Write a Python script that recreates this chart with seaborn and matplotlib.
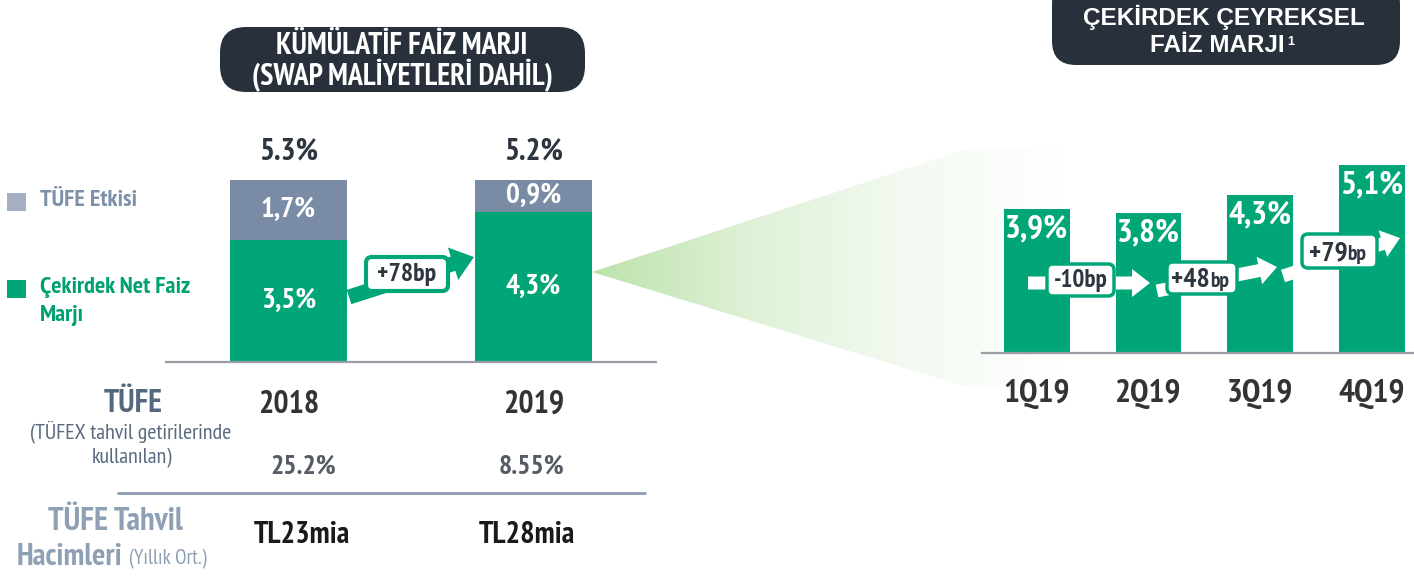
import numpy as np
import pandas as pd
import matplotlib
matplotlib.use("Agg")
import matplotlib.pyplot as plt
import seaborn as sns
from matplotlib.patches import FancyBboxPatch, FancyArrow, Polygon, Rectangle

# ---------------- data ----------------
years = ["2018", "2019"]
core_nim = [3.5, 4.3]
cpi_effect = [1.7, 0.9]
total_labels = ["5.3%", "5.2%"]
core_labels = ["3,5%", "4,3%"]
cpi_labels = ["1,7%", "0,9%"]
yearly_change = "+78bp"

quarters = ["1Q19", "2Q19", "3Q19", "4Q19"]
quarterly_nim = [3.9, 3.8, 4.3, 5.1]
quarterly_labels = ["3,9%", "3,8%", "4,3%", "5,1%"]
quarterly_changes = [("-10bp", ""), ("+48", "bp"), ("+79", "bp")]

cpi_rates = ["25.2%", "8.55%"]
bond_volumes = ["TL23mia", "TL28mia"]

# ---------------- style ----------------
sns.set_theme(style="white")
NARROW = ["PT Sans Narrow", "Liberation Sans", "DejaVu Sans"]
SANS = ["Liberation Sans", "DejaVu Sans"]
plt.rcParams["font.family"] = NARROW

GREEN = "#00a677"
GREY_BAR = "#7a8ca5"
GREY_LEG = "#a5b1c2"
DARK_BOX = "#28313b"
DARK_TXT = "#2d3540"

W, H = 1414, 577
fig = plt.figure(figsize=(W / 100, H / 100), dpi=100)
fig.patch.set_facecolor("white")


def rect(x0, x1, ybase, hpx):
    return [x0 / W, (H - ybase) / H, (x1 - x0) / W, hpx / H]


# background overlay (pixel coordinates)
bg = fig.add_axes([0, 0, 1, 1], zorder=0)
bg.set_xlim(0, W)
bg.set_ylim(H, 0)
bg.axis("off")

# gradient wedge
grad = np.linspace(0, 1, 256)[None, :]
cmap = matplotlib.colors.LinearSegmentedColormap.from_list(
    "g", ["#bce3ab", "#def1d6", "#f3faf1", "#ffffff"])
im = bg.imshow(grad, cmap=cmap, extent=[592, 1060, 390, 146], aspect="auto",
               zorder=0)
wedge = Polygon([[592, 272], [967, 149], [1060, 149], [1060, 387], [967, 387]],
                closed=True, transform=bg.transData, facecolor="none",
                edgecolor="none")
bg.add_patch(wedge)
im.set_clip_path(wedge)

# ---------------- left chart ----------------
axL = fig.add_axes(rect(166, 656, 362, 210), zorder=1)
axL.patch.set_alpha(0)
totals = [c + p for c, p in zip(core_nim, cpi_effect)]
sns.barplot(x=years, y=totals, color=GREY_BAR, saturation=1, width=0.478,
            ax=axL, linewidth=0)
sns.barplot(x=years, y=core_nim, color=GREEN, saturation=1, width=0.478,
            ax=axL, linewidth=0)
axL.set_xlim(-0.5, 1.5)
axL.set_ylim(0, 6)
cont_grey, cont_green = axL.containers[0], axL.containers[1]
axL.bar_label(cont_green, labels=core_labels, label_type="center",
              color="white", fontsize=21, fontweight="bold", family=NARROW)
for i, (c, p, lab) in enumerate(zip(core_nim, cpi_effect, cpi_labels)):
    axL.text(i, c + p / 2, lab, ha="center", va="center", color="white",
             fontsize=21, fontweight="bold", family=NARROW)
for i, lab in enumerate(total_labels):
    axL.text(i, 6.0, lab, ha="center", va="center", color=DARK_TXT,
             fontsize=22.5, fontweight="bold", family=NARROW, clip_on=False)

# ---------------- right chart ----------------
axR = fig.add_axes(rect(982, 1414, 353, 6 * 36.8), zorder=1)
axR.patch.set_alpha(0)
sns.barplot(x=quarters, y=quarterly_nim, color=GREEN, saturation=1,
            width=0.59, ax=axR, linewidth=0)
axR.set_xlim(-0.49, 3.376)
axR.set_ylim(0, 6)
for i, (v, lab) in enumerate(zip(quarterly_nim, quarterly_labels)):
    axR.annotate(lab, (i, v), xytext=(0, -14.5), textcoords="offset points",
                 ha="center", va="center", color="white", fontsize=24,
                 fontweight="bold", family=NARROW)

for ax, pad, size in ((axL, 20, 23), (axR, 19, 24)):
    sns.despine(ax=ax, left=True, top=True, right=True)
    ax.spines["bottom"].set_color("#9a9ea4")
    ax.spines["bottom"].set_linewidth(1.6)
    ax.set_yticks([])
    ax.set_xlabel("")
    ax.set_ylabel("")
    ax.tick_params(axis="x", length=0, pad=pad)
    for t in ax.get_xticklabels():
        t.set_fontsize(size)
        t.set_fontweight("bold")
        t.set_color("#333333")
        t.set_family(NARROW)

# ---------------- foreground overlay ----------------
fg = fig.add_axes([0, 0, 1, 1], zorder=3)
fg.set_xlim(0, W)
fg.set_ylim(H, 0)
fg.axis("off")
fg.patch.set_alpha(0)

# title boxes
fg.add_patch(FancyBboxPatch((220, 27), 365, 65,
                            boxstyle="round,pad=0,rounding_size=26",
                            facecolor=DARK_BOX, edgecolor="none"))
fg.text(402, 46, "KÜMÜLATİF FAİZ MARJI", ha="center", va="center",
        color="white", fontsize=21.5, fontweight="bold", family=NARROW)
fg.text(402, 75, "(SWAP MALİYETLERİ DAHİL)", ha="center", va="center",
        color="white", fontsize=21.5, fontweight="bold", family=NARROW)

fg.add_patch(FancyBboxPatch((1052, -20), 348, 85,
                            boxstyle="round,pad=0,rounding_size=24",
                            facecolor=DARK_BOX, edgecolor="none"))
fg.text(1224, 17, "ÇEKİRDEK ÇEYREKSEL", ha="center", va="center",
        color="white", fontsize=17.5, fontweight="bold", family=SANS)
fg.text(1217, 45, "FAİZ MARJI", ha="center", va="center",
        color="white", fontsize=17.5, fontweight="bold", family=SANS)
fg.text(1287, 36, "1", ha="left", va="top", color="white", fontsize=9,
        fontweight="bold", family=SANS)

# legend
fg.add_patch(Rectangle((7, 193), 19, 18, facecolor=GREY_LEG, edgecolor="none"))
fg.text(40, 201, "TÜFE Etkisi", ha="left", va="center", color="#7d90a8",
        fontsize=17.5, fontweight="bold", family=NARROW)
fg.add_patch(Rectangle((7, 280), 19, 18, facecolor=GREEN, edgecolor="none"))
fg.text(40, 287, "Çekirdek Net Faiz", ha="left", va="center", color="#00a070",
        fontsize=17.5, fontweight="bold", family=NARROW)
fg.text(40, 316, "Marjı", ha="left", va="center", color="#00a070",
        fontsize=17.5, fontweight="bold", family=NARROW)

# left green arrow with change box
fg.add_patch(FancyArrow(349, 297, 125, -40, width=15, head_width=34,
                        head_length=22, length_includes_head=True,
                        facecolor=GREEN, edgecolor="none"))
fg.add_patch(FancyBboxPatch((366, 257), 82, 34,
                            boxstyle="round,pad=0,rounding_size=6",
                            facecolor="white", edgecolor=GREEN, linewidth=3))
fg.text(407, 275, yearly_change, ha="center", va="center", color=DARK_TXT,
        fontsize=18.5, fontweight="bold", family=NARROW)

# right white arrows with change boxes
arrows = [((1028, 283), (1150, 283)), ((1157, 291), (1277, 267)),
          ((1283, 276), (1400, 238))]
boxes = [(1047, 264, 67, 32), (1167, 262, 70, 32), (1302, 234, 75, 34)]
for (p0, p1), (bx, by, bw, bh), (big, small) in zip(arrows, boxes,
                                                    quarterly_changes):
    fg.add_patch(FancyArrow(p0[0], p0[1], p1[0] - p0[0], p1[1] - p0[1],
                            width=13, head_width=28, head_length=18,
                            length_includes_head=True, facecolor="white",
                            edgecolor="none"))
    fg.add_patch(FancyBboxPatch((bx, by), bw, bh,
                                boxstyle="round,pad=0,rounding_size=6",
                                facecolor="white", edgecolor=GREEN,
                                linewidth=2.5))
    cx, cy = bx + bw / 2, by + bh / 2
    if small:
        fg.text(cx + 8, cy + 9, big, ha="right", va="baseline", color=DARK_TXT,
                fontsize=20, fontweight="bold", family=NARROW)
        fg.text(cx + 8, cy + 9, small, ha="left", va="baseline",
                color=DARK_TXT, fontsize=15.5, fontweight="bold", family=NARROW)
    else:
        fg.text(cx, cy, big, ha="center", va="center", color=DARK_TXT,
                fontsize=18, fontweight="bold", family=NARROW)

# bottom table
fg.text(133, 404, "TÜFE", ha="center", va="center", color="#56687f",
        fontsize=23, fontweight="bold", family=NARROW)
fg.text(131, 432, "(TÜFEX tahvil getirilerinde", ha="center", va="center",
        color="#5a6b80", fontsize=15.8, family=NARROW)
fg.text(132, 458, "kullanılan)", ha="center", va="center",
        color="#5a6b80", fontsize=15.8, family=NARROW)
for x, lab in zip([303, 532], cpi_rates):
    fg.text(x, 467, lab, ha="center", va="center", color="#555c66",
            fontsize=20, fontweight="bold", family=NARROW)
fg.plot([118, 645], [493, 493], color="#8a9bb0", linewidth=2)
fg.text(115, 522, "TÜFE Tahvil", ha="center", va="center", color="#8fa0b5",
        fontsize=23.5, fontweight="bold", family=NARROW)
fg.text(17, 557, "Hacimleri", ha="left", va="center", color="#8fa0b5",
        fontsize=22.5, fontweight="bold", family=NARROW)
fg.text(129, 559, "(Yıllık Ort.)", ha="left", va="center", color="#8fa0b5",
        fontsize=15, family=NARROW)
for x, lab in zip([302, 527], bond_volumes):
    fg.text(x, 535, lab, ha="center", va="center", color="#1a1a1a",
            fontsize=22, fontweight="bold", family=NARROW)

fig.savefig("out.png", dpi=100, facecolor="white")
